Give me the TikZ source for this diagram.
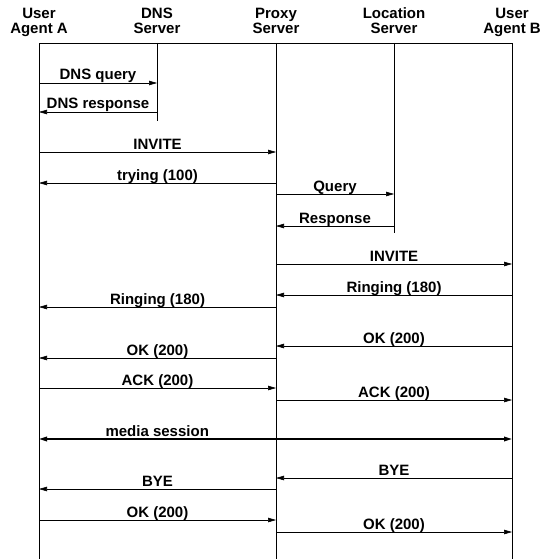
\documentclass[tikz,border=0pt]{standalone}
\usepackage{fontspec}
\setmainfont{Liberation Sans}
\usetikzlibrary{arrows.meta}

\begin{document}
\begin{tikzpicture}[x=1pt, y=-1pt, font=\bfseries\fontsize{15}{15}\selectfont,
        actor/.style={align=center, anchor=base, inner sep=0pt},
        life/.style={line width=0.9pt},
        msg/.style={line width=0.6pt, -{Triangle[length=8pt,width=4.5pt]}},
        lbl/.style={anchor=base, yshift=3pt, inner sep=0pt}]
    \useasboundingbox (0,0) rectangle (545,559);
    \node[actor] (ua) at (39,34) {User\\Agent A};
    \node[actor] (dns) at (157,34) {DNS\\Server};
    \node[actor] (proxy) at (276,34) {Proxy\\Server};
    \node[actor] (loc) at (394,34) {Location\\Server};
    \node[actor] (ub) at (512,34) {User\\Agent B};
    \draw[life] (39,559) |- (512,43) -- (512,559);
    \draw[life] (dns |- 0,43) -- (dns |- 0,121);
    \draw[life] (proxy |- 0,43) -- (proxy |- 0,559);
    \draw[life] (loc |- 0,43) -- (loc |- 0,233);
    \foreach \from/\to/\y/\txt in {ua/dns/83/DNS query, dns/ua/112/DNS response,
            ua/proxy/152/INVITE, proxy/ua/183/trying (100), proxy/loc/194/Query,
            loc/proxy/226/Response, proxy/ub/264/INVITE, ub/proxy/295/Ringing (180),
            proxy/ua/307/Ringing (180), ub/proxy/346/OK (200), proxy/ua/358/OK (200),
            ua/proxy/388/ACK (200), proxy/ub/400/ACK (200), ub/proxy/478/BYE,
            proxy/ua/489/BYE, ua/proxy/520/OK (200), proxy/ub/532/OK (200)}
        \draw[msg] (\from |- 0,\y) -- node[lbl] {\txt} (\to |- 0,\y);
    \draw[msg, line width=1.6pt, {Triangle[length=8pt,width=4.5pt]}-{Triangle[length=8pt,width=4.5pt]}]
        (ua |- 0,439) -- node[lbl, pos=0.25] {media session} (ub |- 0,439);
\end{tikzpicture}
\end{document}
